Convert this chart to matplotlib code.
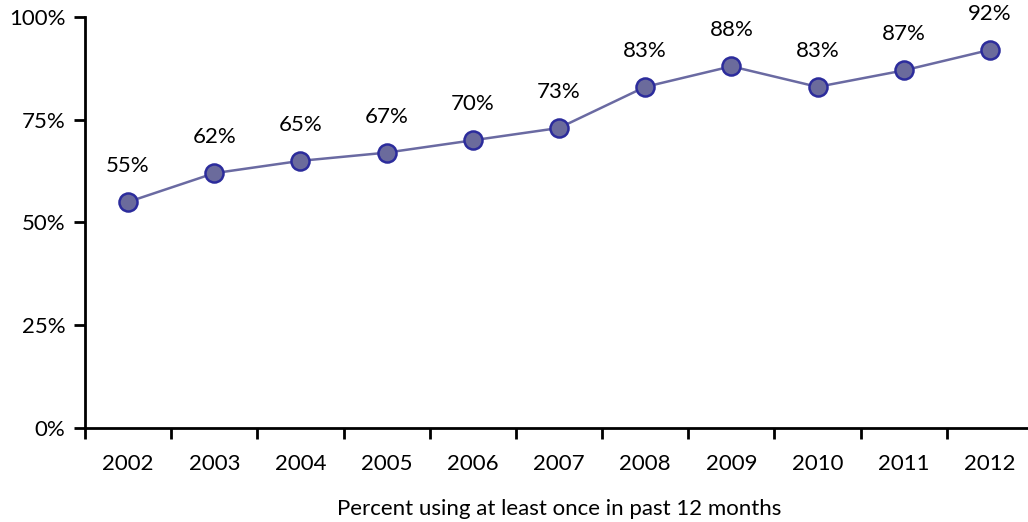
import matplotlib
matplotlib.use("Agg")
import matplotlib.pyplot as plt
import numpy as np

plt.rcParams['font.family'] = ['Lato', 'DejaVu Sans']

years = ['2002', '2003', '2004', '2005', '2006', '2007', '2008', '2009', '2010', '2011', '2012']
pct_using = [55, 62, 65, 67, 70, 73, 83, 88, 83, 87, 92]
y_ticks = [0, 25, 50, 75, 100]

fig = plt.figure(figsize=(10.28, 5.22), dpi=100)
ax = fig.add_axes([85 / 1028, 94 / 522, 948 / 1028, 411 / 522])

x = np.arange(len(years))
ax.plot(x, pct_using, color='#6a6aa2', lw=1.8, marker='o', ms=13,
        mfc='#6b6b9c', mec='#2c2c9c', mew=1.8, clip_on=False, zorder=3)

# value labels above each point
for xi, v in zip(x, pct_using):
    ax.annotate(f'{v}%', (xi, v), xytext=(0, 26), textcoords='offset points',
                ha='center', va='center', fontsize=16, color='black')

ax.set_xlim(-0.5, len(years) - 0.5)
ax.set_ylim(0, 100)
ax.set_yticks(y_ticks)
ax.set_yticklabels([f'{t}%' for t in y_ticks])

# category labels centred, tick marks on the boundaries
ax.set_xticks(np.arange(-0.5, len(years)))
ax.set_xticklabels([])
ax.set_xticks(x, minor=True)
ax.set_xticklabels(years, minor=True)
ax.tick_params(axis='x', which='minor', length=0, pad=19, labelsize=16)
ax.tick_params(axis='x', which='major', length=8, width=2, direction='out')
ax.tick_params(axis='y', length=8, width=2, direction='out', pad=6, labelsize=16)

for side in ['top', 'right']:
    ax.spines[side].set_visible(False)
for side in ['left', 'bottom']:
    ax.spines[side].set_linewidth(2)

ax.set_xlabel('Percent using at least once in past 12 months', fontsize=16, labelpad=18)

fig.savefig('out.png', dpi=100)
